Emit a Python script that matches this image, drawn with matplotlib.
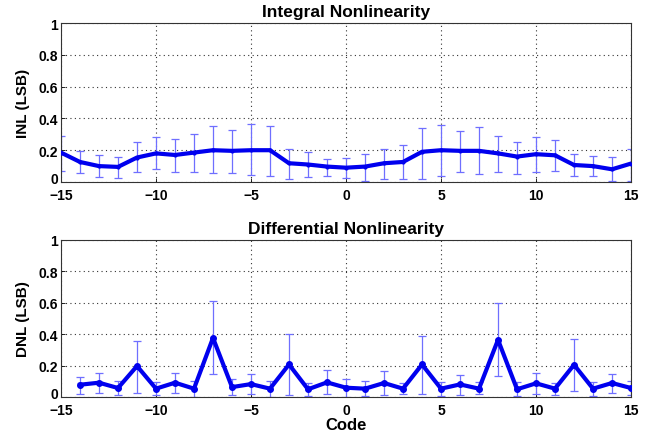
import matplotlib
matplotlib.use("Agg")
import matplotlib.pyplot as plt
import matplotlib.transforms as mtransforms
import numpy as np

plt.rcParams['font.family'] = ['Liberation Sans', 'DejaVu Sans']
plt.rcParams['font.weight'] = 'bold'

# Integral nonlinearity
inl_codes = list(range(-15, 16))
inl_vals = [0.185, 0.126, 0.100, 0.095, 0.154, 0.180, 0.170, 0.185, 0.200, 0.196,
            0.200, 0.200, 0.118, 0.110, 0.097, 0.090, 0.097, 0.118, 0.126, 0.190,
            0.200, 0.196, 0.196, 0.180, 0.160, 0.175, 0.168, 0.107, 0.100, 0.080, 0.116]
inl_low = [0.070, 0.055, 0.030, 0.023, 0.063, 0.080, 0.063, 0.063, 0.055, 0.055,
           0.042, 0.038, 0.020, 0.034, 0.040, 0.027, 0.006, 0.017, 0.020, 0.020,
           0.038, 0.060, 0.048, 0.063, 0.053, 0.063, 0.070, 0.038, 0.038, 0.006, 0.006]
inl_high = [0.290, 0.196, 0.170, 0.160, 0.250, 0.280, 0.270, 0.305, 0.353, 0.330,
            0.364, 0.353, 0.206, 0.190, 0.143, 0.154, 0.175, 0.206, 0.230, 0.340,
            0.358, 0.320, 0.347, 0.290, 0.253, 0.284, 0.263, 0.175, 0.164, 0.160, 0.206]

# Differential nonlinearity
dnl_codes = list(range(-14, 16))
dnl_vals = [0.078, 0.091, 0.057, 0.197, 0.053, 0.091, 0.053, 0.376, 0.063, 0.082,
            0.053, 0.207, 0.049, 0.093, 0.059, 0.053, 0.089, 0.053, 0.207, 0.053,
            0.080, 0.053, 0.364, 0.049, 0.087, 0.053, 0.205, 0.053, 0.089, 0.057]
dnl_low = [0.021, 0.027, 0.010, 0.027, 0.015, 0.025, 0.000, 0.144, 0.015, 0.019,
           0.000, 0.010, 0.006, 0.017, 0.000, 0.006, 0.015, 0.021, 0.021, 0.006,
           0.015, 0.017, 0.131, 0.006, 0.021, 0.015, 0.036, 0.006, 0.027, 0.010]
dnl_high = [0.127, 0.152, 0.100, 0.357, 0.095, 0.150, 0.104, 0.610, 0.112, 0.146,
            0.104, 0.400, 0.090, 0.171, 0.116, 0.100, 0.163, 0.089, 0.390, 0.095,
            0.142, 0.095, 0.598, 0.095, 0.152, 0.089, 0.370, 0.095, 0.148, 0.100]

x_ticks = [-15, -10, -5, 0, 5, 10, 15]
y_ticks = [0, 0.2, 0.4, 0.6, 0.8, 1]
y_ticklabels = ['0', '0.2', '0.4', '0.6', '0.8', '1']

fig = plt.figure(figsize=(6.51, 4.35), dpi=100)
ax1 = fig.add_axes([0.0937, 0.5793, 0.8756, 0.3655])
ax2 = fig.add_axes([0.0937, 0.0851, 0.8756, 0.3610])

line_col = '#0000ee'
err_col = '#6f6fff'


def draw(ax, codes, vals, low, high, ms):
    vals = np.array(vals)
    yerr = [vals - np.array(low), np.array(high) - vals]
    ax.errorbar(codes, vals, yerr=yerr, fmt='none', ecolor=err_col,
                elinewidth=0.9, capsize=3, capthick=0.9, zorder=2)
    ax.plot(codes, vals, color=line_col, lw=3, marker='o', ms=ms, zorder=3)
    ax.set_xlim(-15, 15)
    ax.set_ylim(0, 1)
    ax.set_xticks(x_ticks)
    ax.set_xticklabels([('\u2212' + str(-t)) if t < 0 else str(t) for t in x_ticks])
    ax.set_yticks(y_ticks)
    ax.set_yticklabels(y_ticklabels)
    ax.grid(True, linestyle=(0, (1, 3)), color='#333333', lw=0.8)
    ax.tick_params(direction='in', length=3, labelsize=10, width=0.6)
    ax.tick_params(axis='x', pad=4)
    ax.tick_params(axis='y', pad=2)
    for lab in ax.get_xticklabels() + ax.get_yticklabels():
        lab.set_fontweight('bold')
    zero_lab = ax.get_yticklabels()[0]
    zero_lab.set_transform(zero_lab.get_transform() +
                           mtransforms.ScaledTranslation(0, 3 / 72, fig.dpi_scale_trans))
    for s in ax.spines.values():
        s.set_linewidth(0.8)
        s.set_color('#333333')


draw(ax1, inl_codes, inl_vals, inl_low, inl_high, 2)
draw(ax2, dnl_codes, dnl_vals, dnl_low, dnl_high, 4)

ax1.set_title('Integral Nonlinearity', fontsize=12.5, fontweight='bold', pad=5)
ax1.set_ylabel('INL (LSB)', fontsize=11, fontweight='bold', labelpad=6)
ax2.set_title('Differential Nonlinearity', fontsize=12.5, fontweight='bold', pad=5)
ax2.set_ylabel('DNL (LSB)', fontsize=11, fontweight='bold', labelpad=6)
ax2.set_xlabel('Code', fontsize=12, fontweight='bold', labelpad=0)

fig.savefig('out.png', dpi=100)
